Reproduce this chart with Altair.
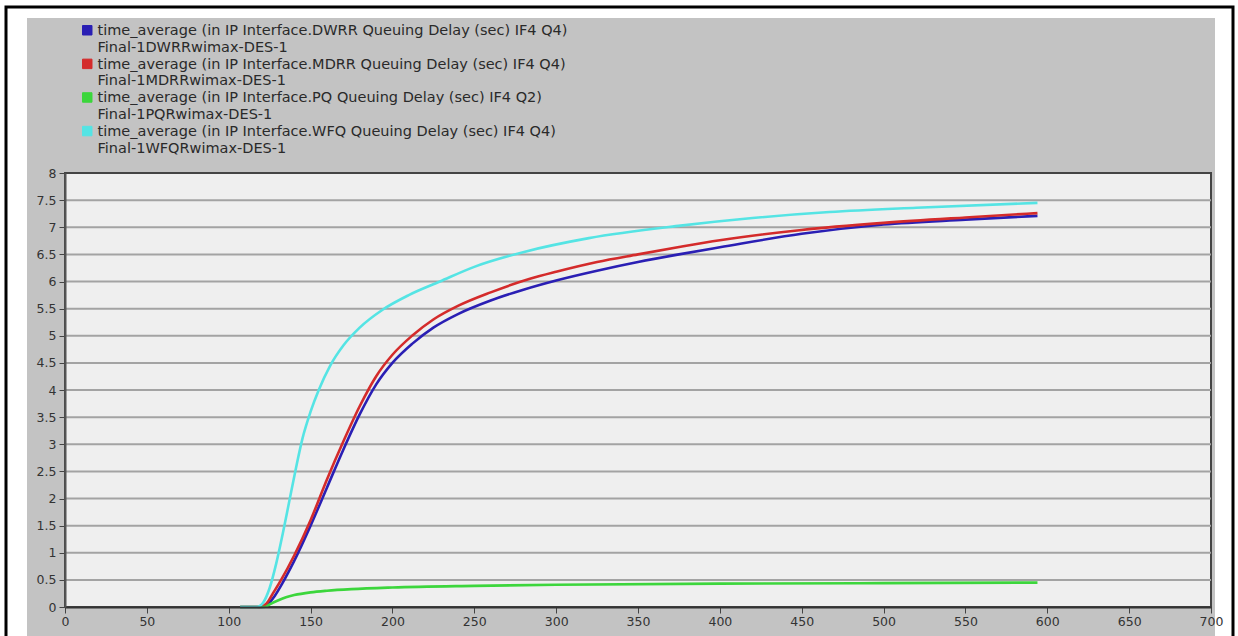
import altair as alt
import pandas as pd

# Series labels (two lines each, split on "|")
series_names = [
    "time_average (in IP Interface.DWRR Queuing Delay (sec) IF4 Q4)|Final-1DWRRwimax-DES-1",
    "time_average (in IP Interface.MDRR Queuing Delay (sec) IF4 Q4)|Final-1MDRRwimax-DES-1",
    "time_average (in IP Interface.PQ Queuing Delay (sec) IF4 Q2)|Final-1PQRwimax-DES-1",
    "time_average (in IP Interface.WFQ Queuing Delay (sec) IF4 Q4)|Final-1WFQRwimax-DES-1",
]
series_colors = ["#2a1fb4", "#d42b2b", "#3cd63c", "#55e4e4"]

# DWRR
dwrr_t = [107, 120, 124, 128, 133, 140, 150, 160, 170, 180, 190, 200, 212, 225, 240, 260,
          280, 300, 325, 350, 375, 400, 450, 500, 550, 594]
dwrr_v = [0, 0, 0.05, 0.2, 0.45, 0.85, 1.5, 2.2, 2.9, 3.55, 4.1, 4.5, 4.85, 5.15, 5.4, 5.65,
          5.85, 6.02, 6.2, 6.36, 6.5, 6.63, 6.88, 7.05, 7.14, 7.21]
# MDRR
mdrr_t = [107, 119, 123, 127, 132, 140, 150, 160, 170, 180, 190, 200, 212, 225, 240, 260,
          284, 300, 325, 350, 376, 400, 450, 500, 550, 594]
mdrr_v = [0, 0, 0.06, 0.25, 0.5, 0.95, 1.6, 2.35, 3.05, 3.7, 4.25, 4.65, 5.0, 5.3, 5.55, 5.8,
          6.05, 6.18, 6.36, 6.5, 6.64, 6.76, 6.95, 7.08, 7.18, 7.26]
# PQ
pq_t = [107, 122, 125, 130, 135, 140, 150, 160, 175, 200, 250, 300, 400, 500, 594]
pq_v = [0, 0, 0.05, 0.12, 0.18, 0.22, 0.27, 0.30, 0.33, 0.36, 0.39, 0.41, 0.43, 0.44, 0.45]
# WFQ
wfq_t = [107, 117, 121, 125, 129, 133, 137, 141, 145, 150, 155, 162, 170, 180, 194, 210,
         229, 250, 281, 320, 376, 420, 467, 520, 594]
wfq_v = [0, 0, 0.08, 0.35, 0.8, 1.35, 1.95, 2.55, 3.1, 3.6, 4.0, 4.45, 4.82, 5.15, 5.48, 5.75,
         6.0, 6.27, 6.55, 6.8, 7.03, 7.17, 7.28, 7.36, 7.45]

x_ticks = list(range(0, 701, 50))
y_ticks = [i * 0.5 for i in range(17)]

rows = []
for name, ts, vs in zip(series_names, [dwrr_t, mdrr_t, pq_t, wfq_t],
                        [dwrr_v, mdrr_v, pq_v, wfq_v]):
    for t, v in zip(ts, vs):
        rows.append({"series": name, "time": t, "delay": v})
df = pd.DataFrame(rows)
starts = df.groupby("series", sort=False).first().reset_index()

W, H = 1146, 434
one = pd.DataFrame({"k": [0]})
FONT = "DejaVu Sans"

x_scale = alt.Scale(domain=[0, 700], nice=False)
y_scale = alt.Scale(domain=[0, 8], nice=False)
color_scale = alt.Scale(domain=series_names, range=series_colors)

x_axis = alt.Axis(values=x_ticks, grid=False, zindex=1, domainColor="#333333",
                  domainWidth=2, tickColor="#444444", tickSize=6,
                  labelColor="#333333", labelFont=FONT, labelFontSize=12.5,
                  labelPadding=2, labelFlush=False, labelOverlap=False)
y_axis = alt.Axis(values=y_ticks, format="~g", grid=False, zindex=1,
                  domainColor="#555555", domainWidth=2, tickColor="#444444",
                  tickSize=6, labelColor="#333333", labelFont=FONT,
                  labelFontSize=12.5, labelPadding=3, labelFlush=False,
                  labelOverlap=False)
# square swatch raised so it sits beside the first label line
swatch = "M-1,-2.05H1V-0.05H-1Z"
legend = alt.Legend(
    title=None, orient="none", legendX=15, legendY=-145, zindex=1,
    symbolType=swatch, symbolSize=90, symbolStrokeWidth=1,
    labelExpr="split(datum.label, '|')",
    labelFont=FONT, labelFontSize=14.5, labelColor="#2a2a2a",
    labelLimit=900, labelBaseline="alphabetic", labelOffset=3,
    rowPadding=1.6,
)

# white sheet with black frame
sheet = alt.Chart(one).mark_rect(fill="white", stroke="black", strokeWidth=3).encode(
    x=alt.value(-59), x2=alt.value(1168), y=alt.value(-166), y2=alt.value(480)
)
# gray panel behind legend and axes
panel = alt.Chart(one).mark_rect(fill="#c3c3c3").encode(
    x=alt.value(-38), x2=alt.value(1150), y=alt.value(-155), y2=alt.value(480)
)
# plot area
plot_bg = alt.Chart(one).mark_rect(fill="#efefef", stroke="#444444", strokeWidth=2).encode(
    x=alt.value(0), x2=alt.value(W), y=alt.value(0), y2=alt.value(H)
)

grid = alt.Chart(pd.DataFrame({"g": y_ticks[1:-1]})).mark_rule(
    color="#a3a3a3", strokeWidth=2
).encode(y=alt.Y("g:Q", scale=y_scale, axis=y_axis, title=None))

lines = alt.Chart(df).mark_line(strokeWidth=2.6, interpolate="monotone").encode(
    x=alt.X("time:Q", scale=x_scale, title=None, axis=x_axis),
    y=alt.Y("delay:Q", scale=y_scale, title=None, axis=y_axis),
    stroke=alt.Stroke("series:N", scale=color_scale, legend=legend),
)

# zero-size squares giving the legend its filled swatches
keys = alt.Chart(starts).mark_square(size=0, filled=True, opacity=1).encode(
    x=alt.X("time:Q", scale=x_scale, title=None, axis=x_axis),
    y=alt.Y("delay:Q", scale=y_scale, title=None, axis=y_axis),
    fill=alt.Fill("series:N", scale=color_scale, legend=legend),
)

chart = alt.layer(sheet, panel, plot_bg, grid, lines, keys).properties(
    width=W, height=H,
    padding={"left": 65, "top": 173, "right": 27, "bottom": 29},
    autosize=alt.AutoSizeParams(type="none"),
).configure_view(stroke=None).configure(background="white")

chart.save("out.html", embed_options={"renderer": "svg", "actions": False})
